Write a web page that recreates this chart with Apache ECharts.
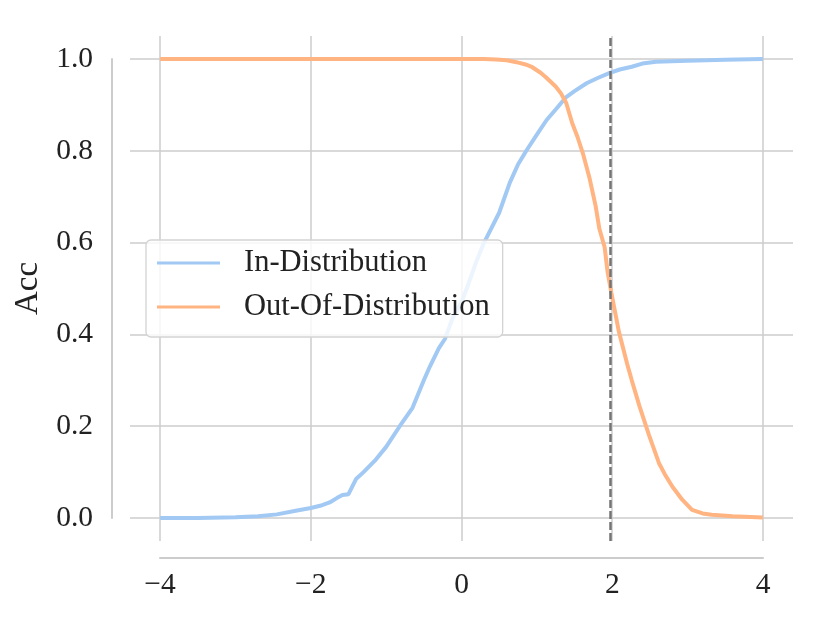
<!DOCTYPE html>
<html>
<head>
<meta charset="utf-8">
<script src="https://cdn.jsdelivr.net/npm/echarts@6/dist/echarts.min.js"></script>
<style>html,body{margin:0;padding:0;background:#fff}#c{width:830px;height:623px}</style>
</head>
<body>
<div id="c"></div>
<script>
// ---- data ----
const xTicks = [-4, -2, 0, 2, 4];
const yTicks = [0, 0.2, 0.4, 0.6, 0.8, 1.0];
const threshold = 1.97;
const inDist = [[-4,0],[-3.5,0.0],[-3,0.002],[-2.7,0.004],[-2.45,0.008],[-2.2,0.016],[-2.0,0.022],[-1.85,0.028],[-1.75,0.034],[-1.65,0.044],[-1.58,0.05],[-1.5,0.052],[-1.4,0.085],[-1.3,0.1],[-1.15,0.125],[-1.0,0.155],[-0.82,0.2],[-0.65,0.24],[-0.5,0.3],[-0.42,0.33],[-0.3,0.37],[-0.22,0.39],[-0.12,0.435],[0,0.47],[0.07,0.5],[0.2,0.56],[0.3,0.6],[0.5,0.665],[0.64,0.73],[0.75,0.77],[0.86,0.80],[1.0,0.835],[1.13,0.867],[1.25,0.89],[1.39,0.917],[1.5,0.93],[1.66,0.947],[1.8,0.958],[1.96,0.969],[2.1,0.977],[2.26,0.983],[2.4,0.99],[2.58,0.994],[3.0,0.996],[3.5,0.998],[4,1.0]];
const outDist = [[-4,1],[0,1],[0.3,1.0],[0.46,0.999],[0.6,0.997],[0.73,0.993],[0.85,0.988],[0.94,0.982],[1.05,0.97],[1.12,0.96],[1.25,0.94],[1.32,0.925],[1.39,0.904],[1.47,0.86],[1.54,0.83],[1.61,0.795],[1.7,0.74],[1.78,0.68],[1.83,0.63],[1.9,0.59],[1.94,0.535],[1.99,0.49],[2.09,0.405],[2.2,0.335],[2.26,0.30],[2.36,0.245],[2.49,0.18],[2.62,0.12],[2.7,0.095],[2.8,0.068],[2.93,0.04],[3.06,0.018],[3.2,0.01],[3.32,0.007],[3.6,0.004],[4,0.001]];
const seriesNames = ['In-Distribution', 'Out-Of-Distribution'];
const colors = ['#a1c9f4', '#ffb482'];

const FONT = 'Liberation Serif';
const gridColor = '#cccccc';
const fmtMinus = v => String(v).replace('-', '\u2212');

const chart = echarts.init(document.getElementById('c'), null, {renderer: 'canvas'});
chart.setOption({
  animation: false,
  backgroundColor: '#ffffff',
  grid: [
    {left: 130, right: 37, top: 36, bottom: 82},
    {left: 160, right: 67, top: 59, bottom: 105}
  ],
  xAxis: [
    {gridIndex: 0, type: 'value', min: -4.4, max: 4.4,
     axisLine: {show: false}, axisLabel: {show: false},
     axisTick: {show: false, customValues: xTicks},
     splitLine: {show: true, lineStyle: {color: gridColor, width: 1.5}}},
    {gridIndex: 1, type: 'value', min: -4, max: 4, interval: 2, offset: 40,
     axisLine: {show: true, onZero: false, lineStyle: {color: gridColor, width: 2}},
     axisTick: {show: false}, splitLine: {show: false},
     axisLabel: {margin: 12, fontFamily: FONT, fontSize: 29.5, color: '#222', formatter: fmtMinus}}
  ],
  yAxis: [
    {gridIndex: 0, type: 'value', min: -0.05, max: 1.05,
     axisLine: {show: false}, axisLabel: {show: false},
     axisTick: {show: false, customValues: yTicks},
     splitLine: {show: true, lineStyle: {color: gridColor, width: 1.5}}},
    {gridIndex: 1, type: 'value', min: 0, max: 1, interval: 0.2, offset: 48,
     axisLine: {show: true, onZero: false, lineStyle: {color: gridColor, width: 2}},
     axisTick: {show: false}, splitLine: {show: false},
     axisLabel: {margin: 19, fontFamily: FONT, fontSize: 29.5, color: '#222', formatter: v => v.toFixed(1)},
     name: 'Acc', nameLocation: 'middle', nameRotate: 90, nameGap: 62,
     nameTextStyle: {fontFamily: FONT, fontSize: 33, color: '#222'}}
  ],
  legend: {
    left: 146, top: 240, orient: 'vertical',
    padding: [7, 13, 14, 11],
    itemWidth: 63, itemHeight: 3, itemGap: 12, icon: 'rect',
    backgroundColor: 'rgba(255,255,255,0.8)',
    borderColor: '#d3d3d3', borderWidth: 1.3, borderRadius: 5,
    textStyle: {fontFamily: FONT, fontSize: 30.5, color: '#222', lineHeight: 32, padding: [0, 0, 0, 19]},
    data: seriesNames
  },
  series: [
    {name: seriesNames[0], type: 'line', xAxisIndex: 0, yAxisIndex: 0, data: inDist,
     showSymbol: false, symbol: 'none', color: colors[0], lineStyle: {width: 4, color: colors[0]},
     markLine: {silent: true, symbol: 'none', label: {show: false},
       lineStyle: {color: '#747474', width: 2.5, type: [8, 3]},
       data: [{xAxis: threshold}]}},
    {name: seriesNames[1], type: 'line', xAxisIndex: 0, yAxisIndex: 0, data: outDist,
     showSymbol: false, symbol: 'none', color: colors[1], lineStyle: {width: 4, color: colors[1]}}
  ]
});
</script>
</body>
</html>
